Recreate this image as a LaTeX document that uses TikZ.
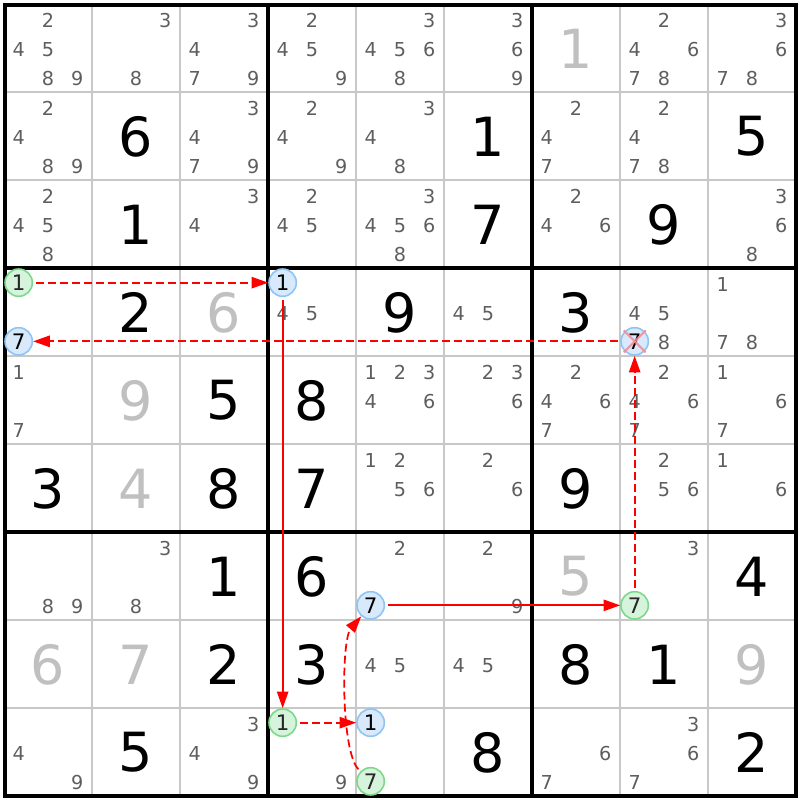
\documentclass[tikz,border=0pt]{standalone}
\usepackage{fontspec}
\setmainfont{DejaVu Sans}
\usetikzlibrary{arrows.meta}
\definecolor{candcol}{HTML}{5E5E5E}
\definecolor{solvedcol}{HTML}{C0C0C0}
\definecolor{thincol}{HTML}{C8C8C8}
\definecolor{gfill}{HTML}{D6F3DB}
\definecolor{gdraw}{HTML}{7CD98B}
\definecolor{bfill}{HTML}{D7E9FB}
\definecolor{bdraw}{HTML}{8FC4F5}
\definecolor{xcol}{HTML}{F08C96}
\definecolor{linkred}{HTML}{FF0000}
\tikzset{
  cand/.style={inner sep=0pt, text=candcol, font=\fontsize{14.4}{14.4}\selectfont},
  givenbox/.style={inner sep=0pt, text=black, font=\fontsize{40.5}{40.5}\selectfont},
  solvedbox/.style={inner sep=0pt, text=solvedcol, font=\fontsize{40.5}{40.5}\selectfont},
  gcirc/.style={circle, draw=gdraw, fill=gfill, line width=1.2pt, minimum size=20.5pt, inner sep=0pt, text=black!85, font=\fontsize{16}{16}\selectfont},
  bcirc/.style={circle, draw=bdraw, fill=bfill, line width=1.2pt, minimum size=20.5pt, inner sep=0pt, text=black, font=\fontsize{16}{16}\selectfont},
  thinline/.style={draw=thincol, line width=1.1pt},
  thickline/.style={draw=black, line width=2.4pt},
  solidarrow/.style={draw=linkred, line width=1.3pt, -{Triangle[length=12.5pt, width=8.5pt]}, shorten <=2pt},
  dashedarrow/.style={draw=linkred, line width=1.3pt, dash pattern=on 6pt off 3pt, -{Triangle[length=12.5pt, width=8.5pt]}, shorten <=2pt},
  xline/.style={draw=xcol, line width=1.6pt, opacity=0.85},
}
\newcommand\cands[3]{%
  \foreach \d in {#3}{%
    \pgfmathsetmacro\px{4+88*(#2-1)+14.667+29.333*mod(\d-1,3)}%
    \pgfmathsetmacro\py{4+88*(#1-1)+16.2+29.333*floor((\d-1)/3)}%
    \node[cand] (c#1#2\d) at (\px,\py) {\d};}}
\newcommand\given[3]{\node[givenbox] (g#1#2) at ({4+88*(#2-1)+44},{4+88*(#1-1)+44.5}) {#3};}
\newcommand\solved[3]{\node[solvedbox] (s#1#2) at ({4+88*(#2-1)+44},{4+88*(#1-1)+44.5}) {#3};}
\newcommand\hilite[4]{%
  \pgfmathsetmacro\px{4+88*(#2-1)+14.667+29.333*mod(#3-1,3)}%
  \pgfmathsetmacro\py{4+88*(#1-1)+14.667+29.333*floor((#3-1)/3)}%
  \node[#4] (o#1#2#3) at (\px,\py) {#3};}
\begin{document}
\begin{tikzpicture}[x=0.75pt, y=-0.75pt]
\path[use as bounding box, fill=white] (0,0) rectangle (800,800);
% thin grid lines
\foreach \k in {1,2,4,5,7,8}{
  \draw[thinline] ({4+88*\k},4) -- ({4+88*\k},796);
  \draw[thinline] (4,{4+88*\k}) -- (796,{4+88*\k});
}
\foreach \k in {3,6}{
  \draw[thickline] ({4+88*\k},4) -- ({4+88*\k},796);
  \draw[thickline] (4,{4+88*\k}) -- (796,{4+88*\k});
}
\draw[thickline, line width=3pt] (4.5,4.5) rectangle (795.5,795.5);
% row 1
\cands{1}{1}{2,4,5,8,9}
\cands{1}{2}{3,8}
\cands{1}{3}{3,4,7,9}
\cands{1}{4}{2,4,5,9}
\cands{1}{5}{3,4,5,6,8}
\cands{1}{6}{3,6,9}
\solved{1}{7}{1}
\cands{1}{8}{2,4,6,7,8}
\cands{1}{9}{3,6,7,8}
% row 2
\cands{2}{1}{2,4,8,9}
\given{2}{2}{6}
\cands{2}{3}{3,4,7,9}
\cands{2}{4}{2,4,9}
\cands{2}{5}{3,4,8}
\given{2}{6}{1}
\cands{2}{7}{2,4,7}
\cands{2}{8}{2,4,7,8}
\given{2}{9}{5}
% row 3
\cands{3}{1}{2,4,5,8}
\given{3}{2}{1}
\cands{3}{3}{3,4}
\cands{3}{4}{2,4,5}
\cands{3}{5}{3,4,5,6,8}
\given{3}{6}{7}
\cands{3}{7}{2,4,6}
\given{3}{8}{9}
\cands{3}{9}{3,6,8}
% row 4
\given{4}{2}{2}
\solved{4}{3}{6}
\cands{4}{4}{4,5}
\given{4}{5}{9}
\cands{4}{6}{4,5}
\given{4}{7}{3}
\cands{4}{8}{4,5,8}
\cands{4}{9}{1,7,8}
% row 5
\cands{5}{1}{1,7}
\solved{5}{2}{9}
\given{5}{3}{5}
\given{5}{4}{8}
\cands{5}{5}{1,2,3,4,6}
\cands{5}{6}{2,3,6}
\cands{5}{7}{2,4,6,7}
\cands{5}{8}{2,4,6,7}
\cands{5}{9}{1,6,7}
% row 6
\given{6}{1}{3}
\solved{6}{2}{4}
\given{6}{3}{8}
\given{6}{4}{7}
\cands{6}{5}{1,2,5,6}
\cands{6}{6}{2,6}
\given{6}{7}{9}
\cands{6}{8}{2,5,6}
\cands{6}{9}{1,6}
% row 7
\cands{7}{1}{8,9}
\cands{7}{2}{3,8}
\given{7}{3}{1}
\given{7}{4}{6}
\cands{7}{5}{2}
\cands{7}{6}{2,9}
\solved{7}{7}{5}
\cands{7}{8}{3}
\given{7}{9}{4}
% row 8
\solved{8}{1}{6}
\solved{8}{2}{7}
\given{8}{3}{2}
\given{8}{4}{3}
\cands{8}{5}{4,5}
\cands{8}{6}{4,5}
\given{8}{7}{8}
\given{8}{8}{1}
\solved{8}{9}{9}
% row 9
\cands{9}{1}{4,9}
\given{9}{2}{5}
\cands{9}{3}{3,4,9}
\cands{9}{4}{9}
\given{9}{6}{8}
\cands{9}{7}{6,7}
\cands{9}{8}{3,6,7}
\given{9}{9}{2}
% highlighted candidates
\hilite{4}{1}{1}{gcirc}
\hilite{4}{1}{7}{bcirc}
\hilite{4}{4}{1}{bcirc}
\hilite{4}{8}{7}{bcirc}
\hilite{7}{5}{7}{bcirc}
\hilite{7}{8}{7}{gcirc}
\hilite{9}{4}{1}{gcirc}
\hilite{9}{5}{1}{bcirc}
\hilite{9}{5}{7}{gcirc}
% links
\draw[dashedarrow] (o411) -- (o441);
\draw[dashedarrow] (o487) -- (o417);
\draw[solidarrow] (o441) -- (o941);
\draw[dashedarrow] (o941) -- (o951);
\draw[dashedarrow] (o957) .. controls (341,752) and (341,640) .. (o757);
\draw[solidarrow] (o757) -- (o787);
\draw[dashedarrow] (o787) -- (o487);
% elimination cross
\draw[xline] ([shift={(-11,-11)}]o487.center) -- ([shift={(11,11)}]o487.center);
\draw[xline] ([shift={(11,-11)}]o487.center) -- ([shift={(-11,11)}]o487.center);
\end{tikzpicture}
\end{document}
